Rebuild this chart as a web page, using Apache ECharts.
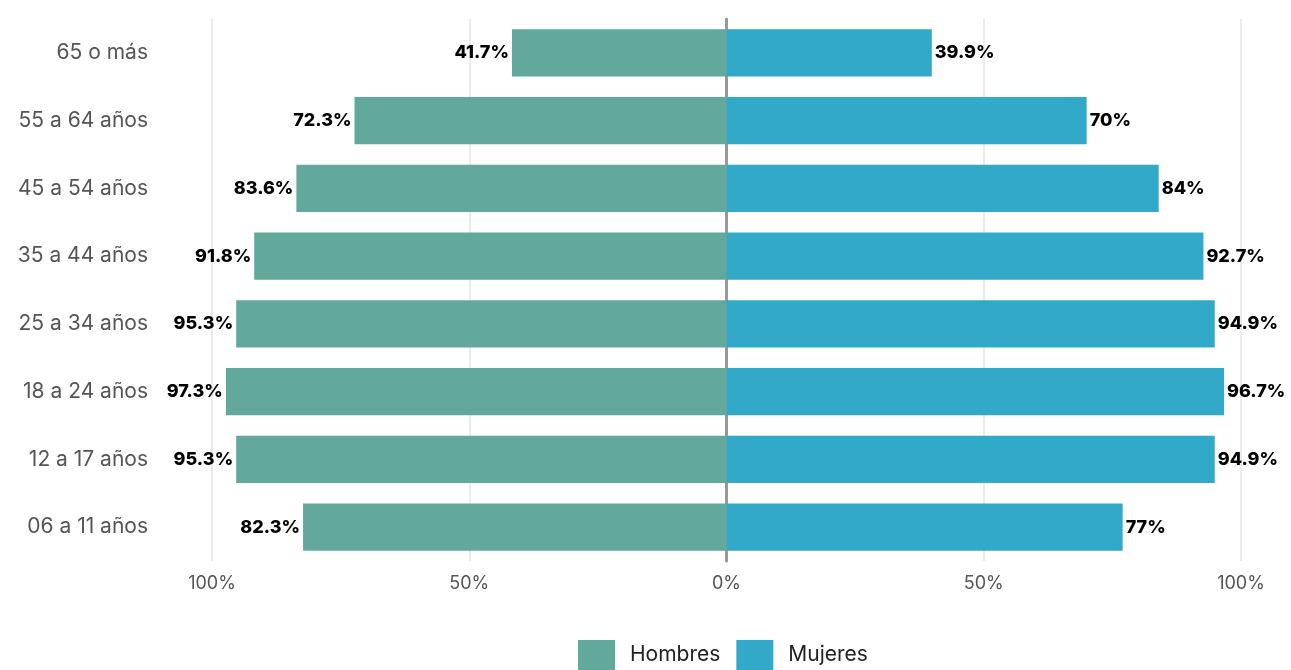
<!DOCTYPE html>
<html>
<head>
<meta charset="utf-8">
<script src="https://cdn.jsdelivr.net/npm/echarts@6/dist/echarts.min.js"></script>
<style>html,body{margin:0;padding:0;background:#fff;}#c{width:1291px;height:670px;}</style>
</head>
<body>
<div id="c"></div>
<script>
const categories = ['06 a 11 años','12 a 17 años','18 a 24 años','25 a 34 años','35 a 44 años','45 a 54 años','55 a 64 años','65 o más'];
const hombres = [82.3, 95.3, 97.3, 95.3, 91.8, 83.6, 72.3, 41.7];
const mujeres = [77, 94.9, 96.7, 94.9, 92.7, 84, 70, 39.9];
const xTicks = [-100, -50, 0, 50, 100];

const font = 'Inter, "Noto Sans", sans-serif';
const chart = echarts.init(document.getElementById('c'));
chart.setOption({
  animation: false,
  textStyle: { fontFamily: font },
  grid: { left: 212, right: 50, top: 19, bottom: 109 },
  legend: {
    bottom: 0, left: 578, padding: 0, itemWidth: 37, itemHeight: 30, itemGap: 16,
    textStyle: { fontSize: 21, color: '#222', fontFamily: font, padding: [0, 0, 0, 10] },
    data: ['Hombres', 'Mujeres'], icon: 'rect'
  },
  xAxis: {
    type: 'value', min: -100, max: 100, interval: 50,
    axisLine: { show: false }, axisTick: { show: false },
    splitLine: { lineStyle: { color: '#ebebeb', width: 2 } },
    axisLabel: { fontSize: 18, color: '#555', margin: 14,
      formatter: v => xTicks.includes(v) ? Math.abs(v) + '%' : '' }
  },
  yAxis: {
    type: 'category', data: categories,
    axisLine: { show: true, onZero: true, lineStyle: { color: '#999', width: 3 } },
    axisTick: { show: false },
    axisLabel: { fontSize: 21, color: '#555', margin: 64 }
  },
  series: [
    {
      name: 'Hombres', type: 'bar', stack: 't', barCategoryGap: '30%',
      itemStyle: { color: '#62A89B' },
      data: hombres.map(v => -v),
      label: { show: true, position: 'left', distance: 3, color: '#000', fontWeight: 800, fontSize: 18,
        formatter: p => Math.abs(p.value) + '%' }
    },
    {
      name: 'Mujeres', type: 'bar', stack: 't', barCategoryGap: '30%',
      itemStyle: { color: '#33A9C9' },
      data: mujeres,
      label: { show: true, position: 'right', distance: 3, color: '#000', fontWeight: 800, fontSize: 18,
        formatter: p => p.value + '%' }
    }
  ]
});
</script>
</body>
</html>
